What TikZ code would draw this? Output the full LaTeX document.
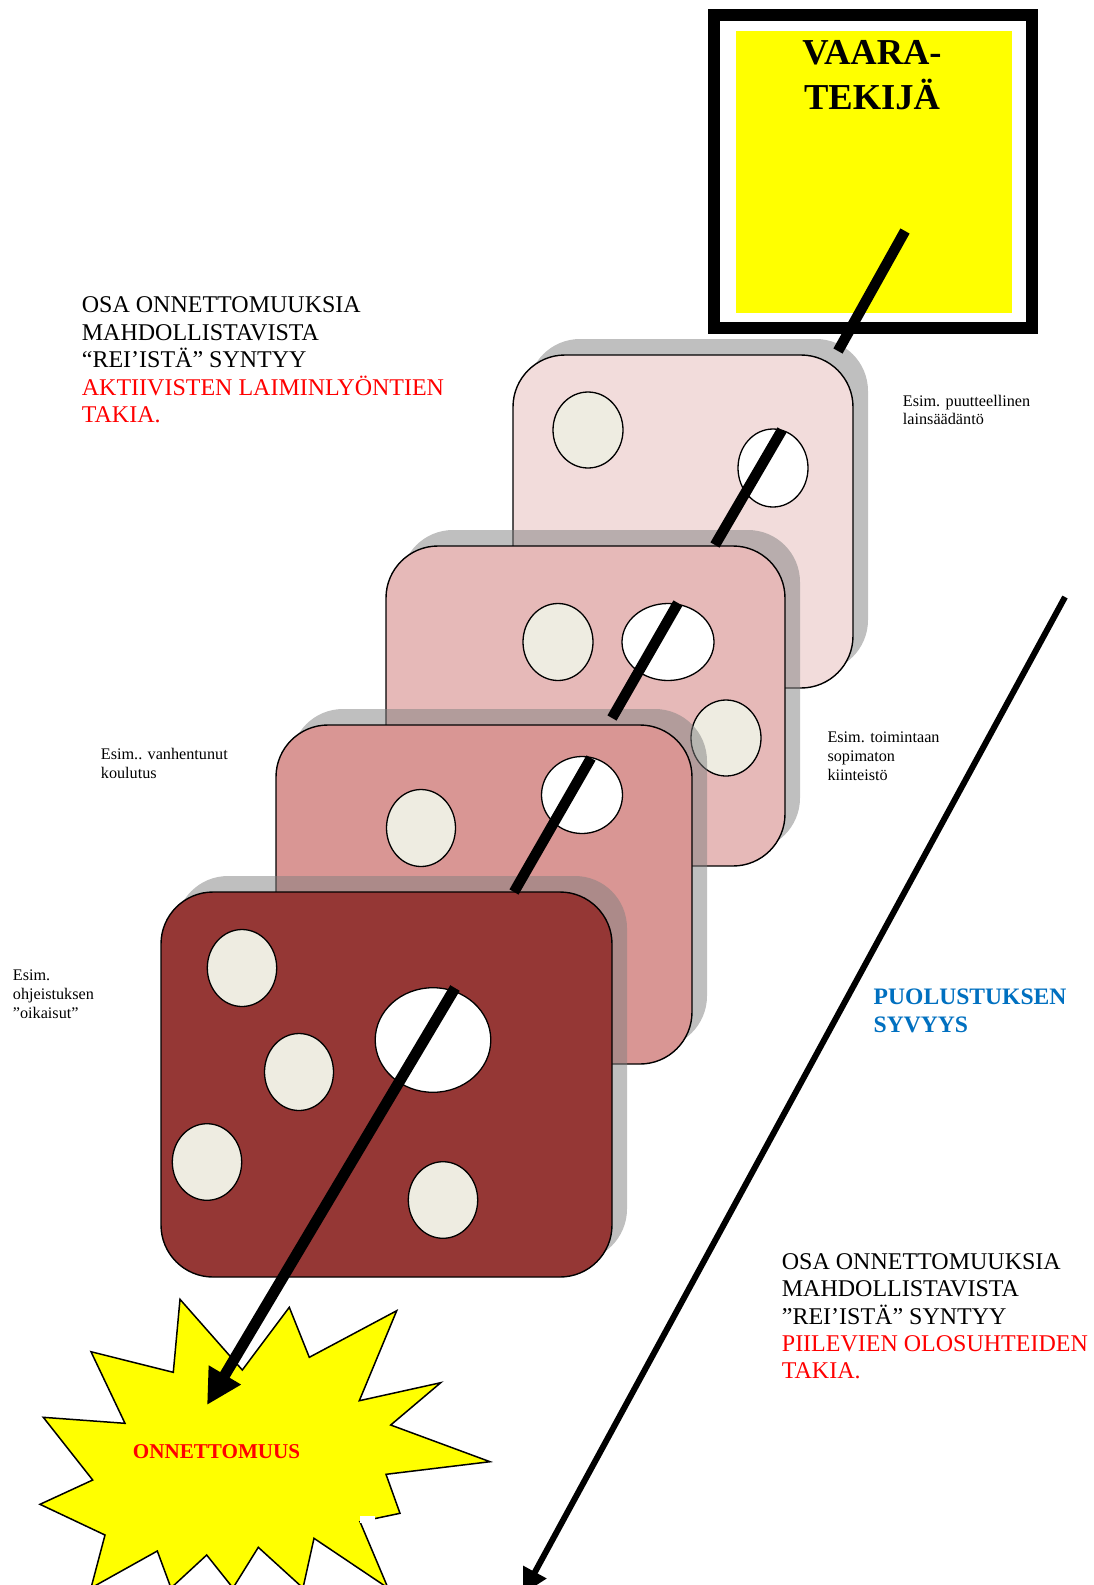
\documentclass[tikz,border=0pt]{standalone}
\usepackage{fontspec}
\setmainfont{Liberation Serif}
\usetikzlibrary{arrows.meta}
\definecolor{cardA}{HTML}{F2DCDB}
\definecolor{cardB}{HTML}{E6B9B8}
\definecolor{cardC}{HTML}{D99694}
\definecolor{cardD}{HTML}{953735}
\definecolor{holebeige}{HTML}{EEECE1}
\definecolor{defblue}{HTML}{0070C0}
\definecolor{hazardyellow}{HTML}{FFFF00}
\begin{document}
\begin{tikzpicture}[x=1pt,y=-1pt,
  cardshadow/.style={fill=gray, fill opacity=0.5, draw=none, rounded corners=52pt},
  card/.style={draw=black, line width=1.4pt, rounded corners=52pt},
  holeclosed/.style={draw=black, line width=1.3pt, fill=holebeige},
  holeopen/.style={draw=black, line width=1.3pt, fill=white},
  pierce/.style={line width=10.5pt},
  bigtext/.style={font=\fontsize{24}{27.4}\selectfont, align=left, inner sep=0pt, anchor=north west},
  smalltext/.style={font=\fontsize{16.2}{18.8}\selectfont, align=left, inner sep=0pt, anchor=north west}]
\useasboundingbox (0,0) rectangle (1094,1585);
\fill[white] (0,0) rectangle (1094,1585);

% hazard box
\draw[line width=12pt] (714,15) rectangle (1032,328);
\fill[hazardyellow] (736,31) rectangle (1012,313);
\node[font=\bfseries\fontsize{36.5}{45}\selectfont, align=center, inner sep=0pt, anchor=north] (hazard) at (872,40.3) {VAARA-\\TEKIJÄ};

% card 1
\fill[cardshadow] (528,339) rectangle (868,672);
\draw[card, fill=cardA] (513,355) rectangle (853,688);
\draw[holeclosed] (588,430) ellipse [x radius=35pt, y radius=38pt];
\draw[holeopen] (773,468) ellipse [x radius=35pt, y radius=39pt];

% card 2
\fill[cardshadow] (401,530) rectangle (800,850);
\draw[card, fill=cardB] (386,546) rectangle (785,866);
\draw[holeclosed] (558,642) ellipse [x radius=35pt, y radius=38.5pt];
\draw[holeopen] (668,642) ellipse [x radius=46pt, y radius=38.5pt];
\draw[holeclosed] (726,738) ellipse [x radius=35pt, y radius=38pt];

% card 3
\fill[cardshadow] (291,709) rectangle (707,1048);
\draw[card, fill=cardC] (276,725) rectangle (692,1064);
\draw[holeclosed] (421,828) ellipse [x radius=34.5pt, y radius=38.5pt];
\draw[holeopen] (582,795) ellipse [x radius=40.5pt, y radius=38.5pt];

% card 4
\fill[cardshadow] (176,876) rectangle (627,1261);
\draw[card, fill=cardD] (161,892) rectangle (612,1277);
\draw[holeclosed] (242,968) ellipse [x radius=34.7pt, y radius=38.5pt];
\draw[holeclosed] (299,1072) ellipse [x radius=34.5pt, y radius=38.5pt];
\draw[holeclosed] (207,1162) ellipse [x radius=34.7pt, y radius=38.3pt];
\draw[holeclosed] (443,1200) ellipse [x radius=34.7pt, y radius=38.3pt];
\draw[holeopen] (433,1040) ellipse [x radius=57.8pt, y radius=52.3pt];

% accident burst
\draw[line width=1.5pt, fill=hazardyellow, line join=miter]
  (180,1299.3) -- (242.3,1370) -- (289.3,1307.3) -- (309.3,1357.3) -- (396.7,1310.7)
  -- (359.3,1400.7) -- (440.7,1382.7) -- (390.7,1425) -- (490,1461.7) -- (386,1474.3)
  -- (400,1513.3) -- (360,1521.7) -- (388,1588) -- (314,1538.3) -- (303,1588)
  -- (258.3,1547.3) -- (233,1588) -- (206.7,1555) -- (171,1588) -- (157.3,1551)
  -- (91,1588) -- (105,1535) -- (40,1504.3) -- (92.7,1480) -- (43.3,1417.3)
  -- (125,1423.3) -- (91,1351.7) -- (173.3,1372.3) -- cycle;
\fill[white] (360,1516.4) rectangle (375,1522.5);
\node[font=\bfseries\fontsize{21.1}{24}\selectfont, text=red, inner sep=0pt, anchor=base west] (accident) at (132.7,1458.3) {ONNETTOMUUS};

% trajectory through the holes
\coordinate (t0) at (905,231);  \coordinate (t1) at (838,351);
\coordinate (t2) at (782,430);  \coordinate (t3) at (715,545);
\coordinate (t4) at (678,603);  \coordinate (t5) at (612,718);
\coordinate (t6) at (591,758);  \coordinate (t7) at (514,892);
\coordinate (t8) at (455,988);  \coordinate (t9) at (207,1405);
\draw[pierce] (t0) -- (t1);
\draw[pierce] (t2) -- (t3);
\draw[pierce] (t4) -- (t5);
\draw[pierce] (t6) -- (t7);
\draw[line width=11pt, -{Triangle[length=35pt,width=35pt]}] (t8) -- (t9);

% depth arrow
\coordinate (d0) at (1065,597); \coordinate (d1) at (523,1594);
\draw[line width=6pt, -{Triangle[length=25pt,width=25pt]}] (d0) -- (d1);

% texts
\node[bigtext] (activeTxt) at (81.7,296.8) {OSA ONNETTOMUUKSIA\\MAHDOLLISTAVISTA\\“REI’ISTÄ” SYNTYY\\\textcolor{red}{AKTIIVISTEN LAIMINLYÖNTIEN}\\\textcolor{red}{TAKIA.}};
\node[bigtext] (latentTxt) at (781.7,1253.1) {OSA ONNETTOMUUKSIA\\MAHDOLLISTAVISTA\\”REI’ISTÄ” SYNTYY\\\textcolor{red}{PIILEVIEN OLOSUHTEIDEN}\\\textcolor{red}{TAKIA.}};
\node[bigtext, font=\bfseries\fontsize{23.6}{27.7}\selectfont, text=defblue] (depthTxt) at (873.5,988.7) {PUOLUSTUKSEN\\SYVYYS};
\node[smalltext] (ex1) at (902.7,394.7) {Esim. puutteellinen\\lainsäädäntö};
\node[smalltext] (ex2) at (827.3,731.5) {Esim. toimintaan\\sopimaton\\kiinteistö};
\node[smalltext] (ex3) at (100.7,748.5) {Esim.. vanhentunut\\koulutus};
\node[smalltext] (ex4) at (12.7,969.5) {Esim.\\ohjeistuksen\\”oikaisut”};
\end{tikzpicture}
\end{document}
